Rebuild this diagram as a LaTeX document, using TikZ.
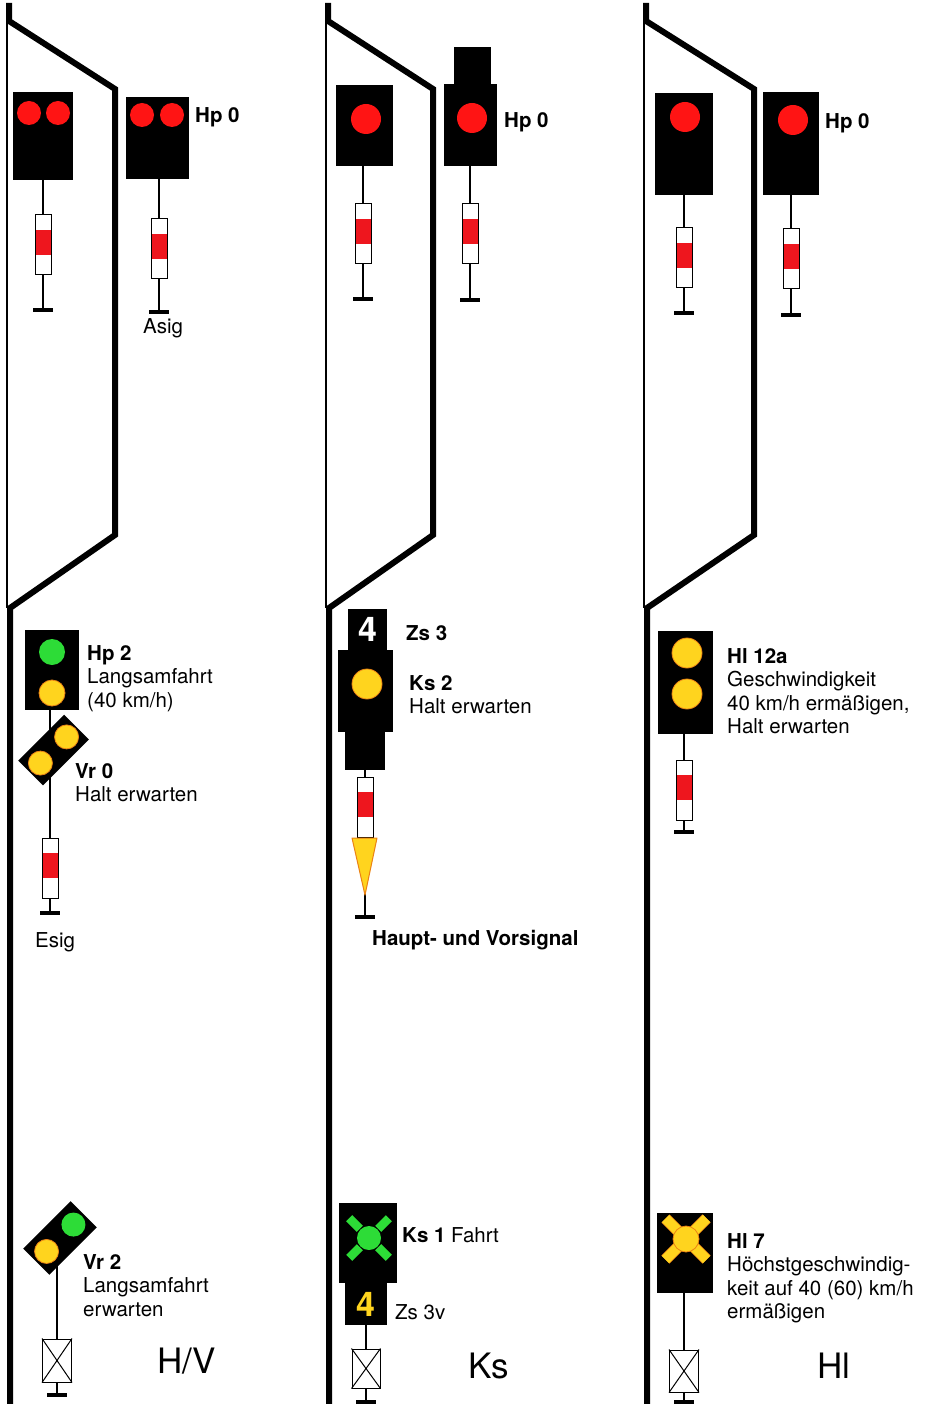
\documentclass[tikz,border=0pt]{standalone}
\usepackage{fontspec}
\setmainfont{TeX Gyre Heros}
\usetikzlibrary{calc}
\definecolor{cLampRed}{RGB}{255, 20, 20}
\definecolor{cLampYellow}{RGB}{255, 212, 30}
\definecolor{cLampEdge}{RGB}{235, 130, 20}
\definecolor{cLampGreen}{RGB}{45, 220, 55}
\definecolor{cPlateRed}{RGB}{238, 22, 30}
\colorlet{cSignBody}{black}
\tikzset{
    trackMain/.style={
        line width=6pt,
        line join=miter
    },
    trackSide/.style={
        line width=1.5pt
    },
    signalBody/.style={
        fill=cSignBody,
        inner sep=0pt
    },
    lampRed/.style={
        fill=cLampRed
    },
    lampYellow/.style={
        fill=cLampYellow,
        draw=cLampEdge,
        line width=0.8pt
    },
    lampGreen/.style={
        fill=cLampGreen
    },
    barYellow/.style={
        draw=cLampYellow,
        line width=10pt,
        preaction={draw=cLampEdge,line width=11.5pt}
    },
    barGreen/.style={
        draw=cLampGreen,
        line width=8.5pt
    },
    signalPost/.style={
        line width=1.3pt
    },
    postFoot/.style={
        line width=4pt
    },
    plateFrame/.style={
        draw=black,
        line width=1pt
    },
    crossBox/.style={
        draw=black,
        fill=white,
        line width=1pt,
        inner sep=0pt
    },
    wedgeSign/.style={
        fill=cLampYellow,
        draw=cLampEdge,
        line width=1pt,
        line join=round
    },
    sigLabel/.style={
        anchor=north west,
        inner sep=0pt,
        align=left,
        font=\fontsize{20.5}{23.5}\selectfont
    },
    systemName/.style={
        anchor=north west,
        inner sep=0pt,
        font=\fontsize{35}{40}\selectfont
    },
    zsDigit/.style={
        inner sep=0pt,
        font=\bfseries\fontsize{34}{34}\selectfont
    },
}

\begin{document}
\begin{tikzpicture}[x=1pt,y=-1pt]
    \useasboundingbox (0,0) rectangle (930,1404);

	\pgfdeclarelayer{background}
	\pgfsetlayers{background,main}

    \newcommand{\mastplate}[2]{%
        \fill[white] ($(#1,#2)+(-8,0)$) rectangle ($(#1,#2)+(8,60)$);
        \fill[cPlateRed] ($(#1,#2)+(-8,15)$) rectangle ($(#1,#2)+(8,40)$);
        \draw[plateFrame] ($(#1,#2)+(-8,0)$) rectangle ($(#1,#2)+(8,60)$);}
    \newcommand{\mastfoot}[1]{\draw[postFoot] ($(#1)-(10,0)$) -- ($(#1)+(10,0)$);}

    % tracks
    \foreach \l/\r in {9/115, 328/433, 646/754}
    {
        \draw[trackMain] (\l,3) -- (\l,21) -- (\r,89) -- (\r,535) -- (\l+1,608) -- (\l+1,1404);
        \draw[trackSide] (\l-2,21) -- (\l-2,608);
    }

    % H/V
    \node[signalBody, minimum width=60, minimum height=88] (hvHomeA) at (43,136) {};
    \node[signalBody, minimum width=63, minimum height=82] (hvHomeB) at (157.5,138) {};
    \node[signalBody, minimum width=54, minimum height=80] (hvEntry) at (52,670) {};
    \coordinate (hvDistant) at (60,1238);
    \coordinate (hvFootA) at (43,310);
    \coordinate (hvFootB) at (159,312);
    \coordinate (hvFootC) at (50,913);
    \coordinate (hvFootD) at (57,1395);

    \path[lampRed] (29,113) circle[radius=12pt];
    \path[lampRed] (58,113) circle[radius=12pt];
    \path[lampRed] (142,115) circle[radius=12pt];
    \path[lampRed] (172,115) circle[radius=12pt];
    \path[lampGreen] (52,652) circle[radius=13pt];
    \path[lampYellow] (52,693) circle[radius=13pt];

    \begin{scope}[shift={(53.5,750)}, rotate=45]
        \fill[signalBody] (-32.5,-17.5) rectangle (32.5,17.5);
        \path[lampYellow] (18.5,0) circle[radius=12pt];
        \path[lampYellow] (-18.5,0) circle[radius=12pt];
    \end{scope}
    \begin{scope}[shift={(hvDistant)}, rotate=45]
        \fill[signalBody] (-33.5,-18.5) rectangle (33.5,18.5);
        \path[lampGreen] (19,0) circle[radius=12pt];
        \path[lampYellow] (-19,0) circle[radius=12pt];
    \end{scope}

    \mastplate{43}{215}
    \mastplate{159}{219}
    \mastplate{50}{838}
    \node[crossBox, minimum width=29, minimum height=43] (hvBox) at (57,1360.5) {};
    \draw[line width=1pt] (hvBox.north west) -- (hvBox.south east) (hvBox.north east) -- (hvBox.south west);
    \mastfoot{hvFootA}
    \mastfoot{hvFootB}
    \mastfoot{hvFootC}
    \mastfoot{hvFootD}

    \node[sigLabel] (hvHp0) at (195,107) {\textbf{Hp 0}};
    \node[sigLabel] (hvAsig) at (143,318) {Asig};
    \node[sigLabel] (hvHp2) at (87,645) {\textbf{Hp 2}\\Langsamfahrt\\(40 km/h)};
    \node[sigLabel] (hvVr0) at (75,763) {\textbf{Vr 0}\\Halt erwarten};
    \node[sigLabel] (hvEsig) at (35,932) {Esig};
    \node[sigLabel] (hvVr2) at (83,1254) {\textbf{Vr 2}\\Langsamfahrt\\erwarten};
    \node[systemName] (hvName) at (157,1348) {H/V};

    % Ks
    \node[signalBody, minimum width=57, minimum height=81] (ksHomeA) at (364.5,125.5) {};
    \node[signalBody, minimum width=53, minimum height=82] (ksHomeB) at (470.5,125) {};
    \node[signalBody, minimum width=37, minimum height=37] (ksHomeBTop) at (472.5,65.5) {};
    \node[signalBody, minimum width=39, minimum height=41] (ksZs) at (367.5,629.5) {};
    \node[signalBody, minimum width=55, minimum height=82] (ksEntry) at (365.5,691) {};
    \node[signalBody, minimum width=40, minimum height=38] (ksEntryLow) at (365,751) {};
    \node[signalBody, minimum width=58, minimum height=80] (ksExit) at (368,1243) {};
    \node[signalBody, minimum width=42, minimum height=42] (ksZsv) at (366,1304) {};
    \coordinate (ksFootA) at (363,299);
    \coordinate (ksFootB) at (470,300);
    \coordinate (ksFootC) at (365,917);
    \coordinate (ksFootD) at (366,1402);
    \coordinate (ksExitLamp) at (369,1238);

    \path[lampRed] (366,119) circle[radius=15pt];
    \path[lampRed] (472,118) circle[radius=15pt];
    \path[lampYellow] (367,684) circle[radius=15pt];
    \foreach \a in {45,135,225,315}
    {
        \draw[barGreen] (ksExitLamp) ++(\a:13) -- ++(\a:15);
    }
    \path[lampGreen] (ksExitLamp) circle[radius=12pt];
    \node[zsDigit, text=white] (ksZsDigit) at (ksZs.center) {4};
    \node[zsDigit, text=cLampYellow] (ksZsvDigit) at (ksZsv.center) {4};

    \mastplate{363}{204}
    \mastplate{470}{204}
    \mastplate{365}{777}
    \draw[wedgeSign] (352,838) -- (377,838) -- (365,895) -- cycle;
    \node[crossBox, minimum width=28, minimum height=39] (ksBox) at (366,1368.5) {};
    \draw[line width=1pt] (ksBox.north west) -- (ksBox.south east) (ksBox.north east) -- (ksBox.south west);
    \mastfoot{ksFootA}
    \mastfoot{ksFootB}
    \mastfoot{ksFootC}
    \mastfoot{ksFootD}

    \node[sigLabel] (ksHp0) at (504,112) {\textbf{Hp 0}};
    \node[sigLabel] (ksZs3) at (406,625) {\textbf{Zs 3}};
    \node[sigLabel] (ksKs2) at (409,675) {\textbf{Ks 2}\\Halt erwarten};
    \node[sigLabel] (ksCombined) at (372,930) {\textbf{Haupt- und Vorsignal}};
    \node[sigLabel] (ksKs1) at (402,1227) {\textbf{Ks 1} Fahrt};
    \node[sigLabel] (ksZs3v) at (395,1304) {Zs 3v};
    \node[systemName] (ksName) at (468,1353) {Ks};

    % Hl
    \node[signalBody, minimum width=58, minimum height=102] (hlHomeA) at (684,144) {};
    \node[signalBody, minimum width=56, minimum height=103] (hlHomeB) at (791,143.5) {};
    \node[signalBody, minimum width=55, minimum height=103] (hlEntry) at (685.5,682.5) {};
    \node[signalBody, minimum width=56, minimum height=80] (hlExit) at (685,1253) {};
    \coordinate (hlFootA) at (684,313);
    \coordinate (hlFootB) at (791,315);
    \coordinate (hlFootC) at (684,832);
    \coordinate (hlFootD) at (684,1402);
    \coordinate (hlExitLamp) at (686,1239);

    \path[lampRed] (685,117) circle[radius=15pt];
    \path[lampRed] (793,120) circle[radius=15pt];
    \path[lampYellow] (687,653) circle[radius=15pt];
    \path[lampYellow] (687,694) circle[radius=15pt];
    \foreach \a in {45,135,225,315}
    {
        \draw[barYellow] (hlExitLamp) ++(\a:12) -- ++(\a:17);
    }
    \path[lampYellow] (hlExitLamp) circle[radius=13pt];

    \mastplate{684}{228}
    \mastplate{791}{229}
    \mastplate{684}{760}
    \node[crossBox, minimum width=29, minimum height=42] (hlBox) at (684,1371) {};
    \draw[line width=1pt] (hlBox.north west) -- (hlBox.south east) (hlBox.north east) -- (hlBox.south west);
    \mastfoot{hlFootA}
    \mastfoot{hlFootB}
    \mastfoot{hlFootC}
    \mastfoot{hlFootD}

    \node[sigLabel] (hlHp0) at (825,113) {\textbf{Hp 0}};
    \node[sigLabel] (hlHl12a) at (727,648) {\textbf{Hl 12a}\\Geschwindigkeit\\40 km/h ermäßigen,\\Halt erwarten};
    \node[sigLabel] (hlHl7) at (727,1233) {\textbf{Hl 7}\\Höchstgeschwindig-\\keit auf 40 (60) km/h\\ermäßigen};
    \node[systemName] (hlName) at (817,1353) {Hl};

	\begin{pgfonlayer}{background}
        \draw[signalPost] (hvHomeA.south) -- (hvFootA);
        \draw[signalPost] (hvFootB |- hvHomeB.south) -- (hvFootB);
        \draw[signalPost] (hvFootC |- hvEntry.south) -- (hvFootC);
        \draw[signalPost] (hvFootD |- hvDistant) -- (hvFootD);

        \draw[signalPost] (ksFootA |- ksHomeA.south) -- (ksFootA);
        \draw[signalPost] (ksFootB |- ksHomeB.south) -- (ksFootB);
        \draw[signalPost] (ksFootC |- ksEntryLow.south) -- (ksFootC);
        \draw[signalPost] (ksFootD |- ksZsv.south) -- (ksFootD);

        \draw[signalPost] (hlFootA |- hlHomeA.south) -- (hlFootA);
        \draw[signalPost] (hlFootB |- hlHomeB.south) -- (hlFootB);
        \draw[signalPost] (hlFootC |- hlEntry.south) -- (hlFootC);
        \draw[signalPost] (hlFootD |- hlExit.south) -- (hlFootD);
	\end{pgfonlayer}
\end{tikzpicture}
\end{document}
